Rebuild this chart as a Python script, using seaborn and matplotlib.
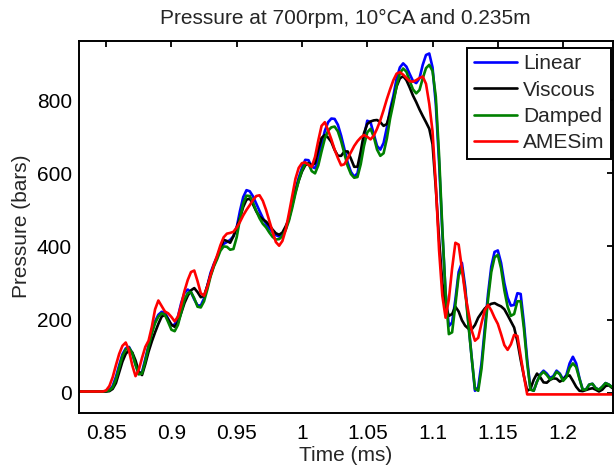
import matplotlib
matplotlib.use("Agg")
import matplotlib.pyplot as plt
import numpy as np
import pandas as pd
import seaborn as sns

# Sampling instants (ms), one every 2.5 microseconds
time_ms = np.round(0.8275 + 0.0025 * np.arange(166), 4)

# Pressure (bars) at each sampling instant for each model
linear_bar = [3, 3, 3, 3, 3, 3, 3, 3, 3, 4,
              7, 18, 43, 75, 105, 121, 125, 108, 77, 51,
              56, 92, 130, 167, 195, 213, 221, 219, 202, 184,
              186, 208, 245, 273, 282, 275, 255, 239, 238, 258,
              292, 328, 352, 372, 395, 407, 412, 418, 428, 452,
              497, 535, 554, 551, 537, 517, 497, 478, 462, 449,
              439, 431, 427, 431, 447, 478, 517, 556, 588, 615,
              637, 636, 618, 614, 640, 680, 716, 740, 750, 749,
              733, 703, 667, 630, 604, 591, 600, 645, 700, 744,
              740, 707, 675, 665, 683, 725, 775, 812, 860, 890,
              901, 892, 872, 853, 847, 860, 897, 924, 928, 890,
              790, 630, 440, 275, 182, 192, 255, 330, 355, 290,
              190, 95, 5, 15, 80, 175, 270, 345, 385, 389,
              355, 300, 260, 238, 240, 272, 270, 190, 90, 10,
              5, 30, 50, 60, 52, 40, 45, 60, 52, 36,
              48, 80, 98, 80, 40, 8, 8, 22, 24, 12,
              8, 16, 26, 22, 15, 12]

viscous_bar = [3, 3, 3, 3, 3, 3, 3, 3, 3, 3,
               4, 10, 26, 55, 85, 106, 116, 110, 88, 58,
               48, 78, 112, 140, 165, 188, 208, 213, 200, 186,
               180, 192, 218, 245, 265, 280, 286, 275, 261, 265,
               292, 322, 348, 370, 395, 418, 415, 410, 428, 452,
               478, 508, 528, 531, 515, 496, 482, 474, 468, 458,
               446, 436, 432, 438, 455, 475, 512, 550, 580, 605,
               622, 628, 622, 628, 665, 697, 705, 698, 686, 664,
               648, 648, 660, 660, 640, 618, 618, 660, 710, 735,
               742, 745, 746, 740, 730, 735, 765, 800, 838, 860,
               866, 855, 835, 813, 795, 775, 757, 740, 722, 680,
               560, 420, 300, 238, 210, 215, 235, 222, 198, 183,
               175, 173, 185, 205, 218, 230, 238, 243, 245, 240,
               236, 228, 212, 195, 178, 140, 90, 45, 5, 10,
               35, 52, 42, 28, 27, 35, 39, 38, 30, 35,
               45, 47, 32, 16, 5, 4, 7, 10, 12, 8,
               3, 8, 18, 20, 13, 8]

damped_bar = [3, 3, 3, 3, 3, 3, 3, 3, 3, 4,
              6, 14, 36, 68, 100, 118, 123, 108, 76, 50,
              52, 86, 126, 162, 190, 208, 217, 213, 193, 172,
              168, 185, 220, 254, 272, 275, 258, 235, 233, 250,
              282, 318, 345, 365, 388, 400, 399, 391, 393, 425,
              475, 518, 539, 538, 520, 497, 477, 462, 452, 438,
              426, 419, 420, 428, 445, 470, 505, 545, 580, 608,
              626, 626, 606, 600, 622, 660, 695, 717, 726, 728,
              715, 688, 654, 620, 598, 588, 590, 625, 675, 712,
              722, 700, 665, 648, 655, 695, 750, 792, 840, 874,
              887, 878, 853, 830, 819, 828, 860, 888, 897, 880,
              810, 650, 450, 270, 160, 165, 240, 320, 342, 280,
              185, 95, 10, 5, 65, 160, 255, 330, 370, 377,
              340, 280, 235, 210, 215, 250, 250, 175, 80, 8,
              5, 30, 48, 57, 48, 36, 42, 57, 50, 32,
              42, 68, 80, 70, 38, 8, 8, 22, 24, 12,
              8, 16, 26, 22, 15, 12]

amesim_bar = [3, 3, 3, 3, 3, 3, 3, 3, 3, 6,
              18, 42, 75, 106, 128, 137, 115, 75, 45, 62,
              95, 125, 142, 180, 228, 252, 237, 222, 217, 207,
              195, 208, 240, 278, 308, 330, 334, 305, 272, 265,
              290, 322, 350, 375, 403, 425, 435, 437, 440, 452,
              467, 485, 500, 513, 527, 538, 540, 525, 500, 470,
              440, 412, 402, 415, 445, 490, 538, 585, 615, 628,
              630, 623, 618, 645, 690, 730, 740, 718, 693, 665,
              642, 622, 625, 641, 658, 675, 688, 698, 705, 700,
              693, 703, 722, 745, 773, 803, 830, 855, 873, 877,
              870, 861, 852, 851, 855, 861, 865, 845, 790, 715,
              570, 390, 265, 205, 255, 340, 410, 405, 340, 270,
              220, 170, 142, 150, 190, 225, 240, 225, 205, 188,
              160, 130, 117, 132, 158, 155, 100, 45, -5, -5,
              -5, -5, -5, -5, -5, -5, -5, -5, -5, -5,
              -5, -5, -5, -5, -5, -5, -5, -5, -5, -5,
              -5, -5, -5, -5, -5, -5]

series_names = ["Linear", "Viscous", "Damped", "AMESim"]
series_colors = ["#0000ff", "#000000", "#008000", "#ff0000"]
x_ticks = [0.85, 0.9, 0.95, 1.0, 1.05, 1.1, 1.15, 1.2]
x_tick_labels = ["0.85", "0.9", "0.95", "1", "1.05", "1.1", "1.15", "1.2"]
y_ticks = [0, 200, 400, 600, 800]

frames = []
for name, values in zip(series_names, [linear_bar, viscous_bar, damped_bar, amesim_bar]):
    frames.append(pd.DataFrame({"time": time_ms, "pressure": values, "model": name}))
df = pd.concat(frames, ignore_index=True)

sns.set_style("white")
plt.rcParams["font.family"] = ["Liberation Sans", "DejaVu Sans"]
plt.rcParams["font.size"] = 15

fig = plt.figure(figsize=(6.14, 4.67), dpi=100)
ax = fig.add_axes([0.1282, 0.1163, 0.8697, 0.7965])

sns.lineplot(data=df, x="time", y="pressure", hue="model", hue_order=series_names,
             palette=dict(zip(series_names, series_colors)), linewidth=1.9,
             estimator=None, sort=False, ax=ax)

ax.set_xlim(0.829, 1.238)
ax.set_ylim(-55, 963)
ax.set_xticks(x_ticks)
ax.set_xticklabels(x_tick_labels)
ax.set_yticks(y_ticks)
ax.tick_params(direction="in", top=True, right=True, length=4, width=1.3,
               labelsize=15, colors="black")
ax.tick_params(axis="x", pad=8)
ax.tick_params(axis="y", pad=5)
for s in ax.spines.values():
    s.set_visible(True)
    s.set_color("black")
    s.set_linewidth(1.4)

ax.set_xlabel("Time (ms)", fontsize=15, labelpad=2)
ax.set_ylabel("Pressure (bars)", fontsize=15, labelpad=4)
ax.set_title("Pressure at 700rpm, 10\u00b0CA and 0.235m", fontsize=15, pad=12)

leg = ax.legend(loc="upper right", bbox_to_anchor=(0.9963, 0.980), borderaxespad=0,
                fontsize=15, frameon=True, fancybox=False, handlelength=2.07,
                handletextpad=0.3, labelspacing=0.35, borderpad=0.3)
leg.get_frame().set_edgecolor("black")
leg.get_frame().set_linewidth(1.4)
leg.get_frame().set_alpha(1)
for line in leg.get_lines():
    line.set_linewidth(1.9)

fig.savefig("out.png", dpi=100)
